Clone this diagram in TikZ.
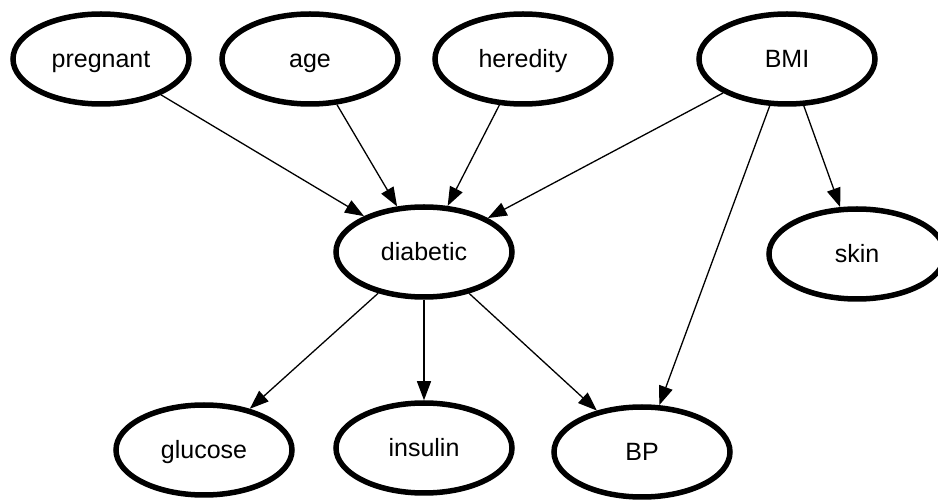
\documentclass[tikz,border=0pt]{standalone}
\usepackage{fontspec}
\setmainfont{Liberation Sans}
\usetikzlibrary{shapes.geometric,arrows.meta}

\begin{document}
\begin{tikzpicture}[
x=1pt,
y=-1pt,
var/.style={
draw,
ellipse,
line width=5.5pt,
minimum width=176pt,
minimum height=90pt,
inner sep=0pt,
text height=18pt,
text depth=0pt,
},
myedge/.style={
line width=1.3pt,
-{Triangle[length=19pt,width=14pt]},
},
font=\fontsize{25}{30}\selectfont,
]
\useasboundingbox (0,0) rectangle (938,502);

\node[var] at (101,59) (preg) {pregnant};
\node[var] at (310,59) (age) {age};
\node[var] at (523,59) (hered) {heredity};
\node[var] at (787,59) (bmi) {BMI};
\node[var] at (424,252) (diab) {diabetic};
\node[var] at (857,254) (skin) {skin};
\node[var] at (204,450) (gluc) {glucose};
\node[var] at (424,448) (ins) {insulin};
\node[var] at (642,452) (bp) {BP};

\path (preg) edge [myedge] (diab);
\path (age) edge [myedge] (diab);
\path (hered) edge [myedge] (diab);
\path (bmi) edge [myedge] (diab);
\path (bmi) edge [myedge] (bp);
\path (bmi) edge [myedge] (skin);

\path (diab) edge [myedge] (gluc);
\path (diab) edge [myedge] (ins);
\path (diab) edge [myedge] (bp);

\end{tikzpicture}
\end{document}
